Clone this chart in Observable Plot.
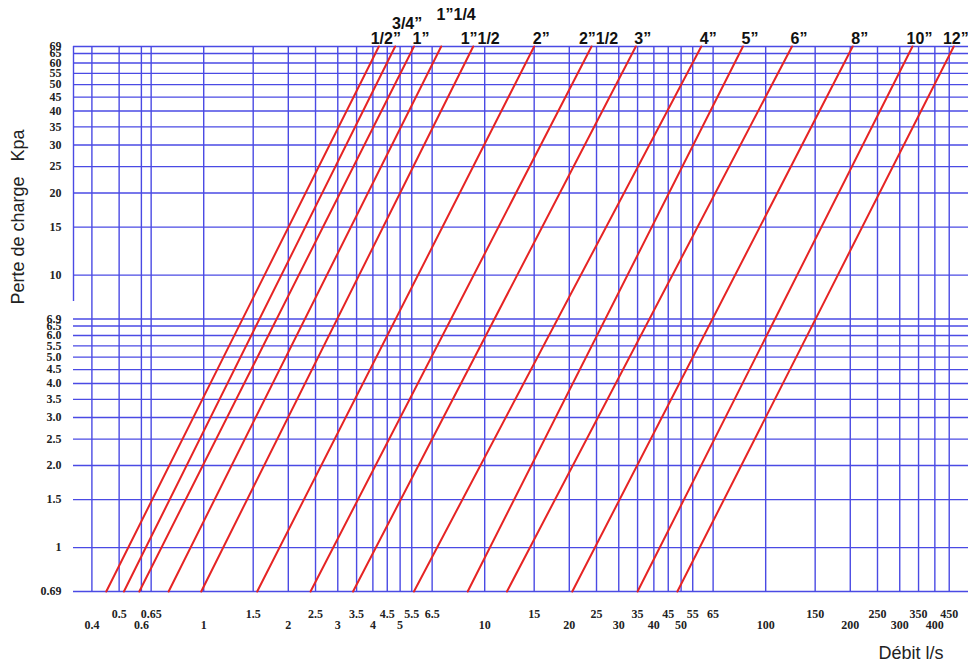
<!DOCTYPE html>
<html><head><meta charset="utf-8">
<script src="https://cdn.jsdelivr.net/npm/d3@7"></script>
<script src="https://cdn.jsdelivr.net/npm/@observablehq/plot@0.6"></script>
<style>body{margin:0;background:#fff}#chart svg{display:block}</style>
</head><body><div id="chart"></div>
<script>
// Pipe sizes and the flow (l/s) read where each red line meets the bottom (0.69 kPa) and top (69 kPa) edges
const pipes = ["1/2”","3/4”","1”","1”1/4","1”1/2","2”","2”1/2","3”","4”","5”","6”","8”","10”","12”"];
const flowAtLow  = [0.45, 0.52, 0.59, 0.75, 0.98, 1.55, 2.4, 3.4, 5.6, 8.7, 12, 20.5, 35, 48.5];
const flowAtHigh = [4.2, 4.8, 5.6, 7, 9.1, 15, 24, 34.5, 59, 83, 124, 204, 333, 467];
const pressureEnds = [0.69, 69];

const xTicksUpper = [0.5,0.65,1.5,2.5,3.5,4.5,5.5,6.5,15,25,35,45,55,65,150,250,350,450];
const xTicksLower = [0.4,0.6,1,2,3,4,5,10,20,30,40,50,100,200,300,400];
const yTicks = [0.69,1,1.5,2,2.5,3,3.5,4,4.5,5,5.5,6,6.5,6.9,10,15,20,25,30,35,40,45,50,55,60,65,69];
const yTickLabels = ["0.69","1","1.5","2.0","2.5","3.0","3.5","4.0","4.5","5.0","5.5","6.0","6.5","6.9","10","15","20","25","30","35","40","45","50","55","60","65","69"];

const xDomain = [0.344, 527];
const yLabelOf = new Map(yTicks.map((v, i) => [v, yTickLabels[i]]));

const lines = pipes.flatMap((p, i) => [
  {pipe: p, q: flowAtLow[i], kpa: pressureEnds[0]},
  {pipe: p, q: flowAtHigh[i], kpa: pressureEnds[1]}
]);
const tops = pipes.map((p, i) => ({pipe: p, q: flowAtHigh[i], kpa: pressureEnds[1]}));
const raisedMid = new Set(["3/4”"]);
const raisedHigh = new Set(["1”1/4"]);
const atEdge = new Set(["12”"]);
const isBase = d => !raisedMid.has(d.pipe) && !raisedHigh.has(d.pipe) && !atEdge.has(d.pipe);

const grid = "#4a4ae4";
const red = "#e62424";
const sans = "'Liberation Sans', Arial, sans-serif";
const serif = "'Liberation Serif', 'Times New Roman', serif";
const tickText = {fontFamily: serif, fontWeight: "bold", fontSize: 12, fill: "#222"};
const pipeText = {x: "q", y: "kpa", text: "pipe", lineAnchor: "bottom",
  fontFamily: sans, fontWeight: "bold", fontSize: 16, fill: "#111"};

const chart = Plot.plot({
  width: 968,
  height: 665,
  marginLeft: 73,
  marginRight: 0,
  marginTop: 46,
  marginBottom: 74,
  style: {background: "#fff"},
  x: {type: "log", domain: xDomain, axis: null},
  y: {type: "log", domain: pressureEnds, axis: null},
  marks: [
    Plot.gridX(xTicksUpper.concat(xTicksLower), {stroke: grid, strokeOpacity: 1, strokeWidth: 1.4}),
    Plot.gridY(yTicks, {stroke: grid, strokeOpacity: 1, strokeWidth: 1.4}),
    Plot.ruleX([xDomain[0]], {y1: 8, y2: 69, stroke: grid, strokeWidth: 1.4}),
    Plot.line(lines, {x: "q", y: "kpa", z: "pipe", stroke: red, strokeWidth: 2}),
    // y tick labels
    Plot.text(yTicks, {y: d => d, text: d => yLabelOf.get(d), frameAnchor: "left",
      textAnchor: "end", lineAnchor: "middle", dx: -12, ...tickText}),
    // x tick labels, two staggered rows
    Plot.text(xTicksUpper, {x: d => d, text: d => String(d), frameAnchor: "bottom",
      textAnchor: "middle", lineAnchor: "bottom", dy: 26, ...tickText}),
    Plot.text(xTicksLower, {x: d => d, text: d => String(d), frameAnchor: "bottom",
      textAnchor: "middle", lineAnchor: "bottom", dy: 37, ...tickText}),
    // pipe size labels at the top of each line
    Plot.text(tops.filter(isBase), {...pipeText, textAnchor: "middle", dx: 7, dy: -3}),
    Plot.text(tops.filter(d => raisedMid.has(d.pipe)), {...pipeText, textAnchor: "middle", dx: 12, dy: -18}),
    Plot.text(tops.filter(d => raisedHigh.has(d.pipe)), {...pipeText, textAnchor: "middle", dx: 15, dy: -27}),
    Plot.text(tops.filter(d => atEdge.has(d.pipe)), {...pipeText, textAnchor: "end", dx: 15, dy: -3}),
    // axis titles
    Plot.text(["Perte de charge   Kpa"], {text: d => d, frameAnchor: "left", rotate: -90,
      textAnchor: "middle", lineAnchor: "middle",
      dx: -55, dy: -102, fontFamily: sans, fontSize: 18, fill: "#222"}),
    Plot.text(["Débit l/s"], {text: d => d, frameAnchor: "bottom-right", textAnchor: "end",
      lineAnchor: "bottom", dx: -25, dy: 67, fontFamily: sans, fontSize: 18, fill: "#222"})
  ]
});
document.getElementById("chart").append(chart);
</script>
</body></html>
